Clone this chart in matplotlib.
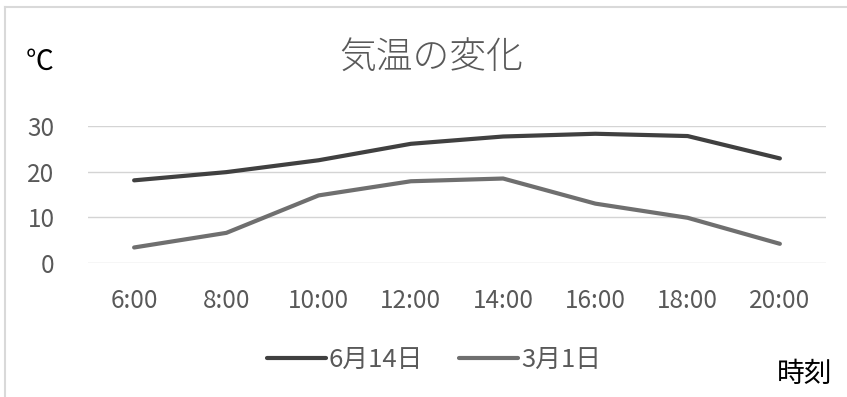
import matplotlib
matplotlib.use("Agg")
import matplotlib.pyplot as plt
from matplotlib.lines import Line2D

plt.rcParams['font.family'] = ['Noto Sans CJK JP', 'DejaVu Sans']

times = ["6:00", "8:00", "10:00", "12:00", "14:00", "16:00", "18:00", "20:00"]
june14 = [18.1, 19.9, 22.5, 26.1, 27.7, 28.3, 27.8, 22.9]
march1 = [3.4, 6.6, 14.8, 17.9, 18.5, 13.0, 9.9, 4.2]
series_names = ["6月14日", "3月1日"]
yticks = [0, 10, 20, 30]

W, H = 847, 397
fig = plt.figure(figsize=(W / 100, H / 100), dpi=100)
fig.patch.set_facecolor("white")

# chart frame (top and left edges visible)
fig.add_artist(Line2D([5 / W, 1], [1 - 7 / H, 1 - 7 / H], color="#d9d9d9", lw=1.5, transform=fig.transFigure))
fig.add_artist(Line2D([5 / W, 5 / W], [0, 1 - 7 / H], color="#d9d9d9", lw=1.5, transform=fig.transFigure))

left, right, top, bottom = 88, 826, 126, 263
ax = fig.add_axes([left / W, 1 - bottom / H, (right - left) / W, (bottom - top) / H])

x = list(range(len(times)))
ax.plot(x, june14, color="#404040", lw=3.0, solid_capstyle="round", solid_joinstyle="round", label=series_names[0], zorder=3)
ax.plot(x, march1, color="#6f6f6f", lw=3.0, solid_capstyle="round", solid_joinstyle="round", label=series_names[1], zorder=3)

ax.set_xlim(-0.5, len(times) - 0.5)
ax.set_ylim(0, 30)
ax.set_yticks(yticks)
ax.set_xticks(x)
ax.set_xticklabels(times)
ax.grid(axis="y", color="#d4d4d4", lw=1.0)
ax.set_axisbelow(True)
for s in ax.spines.values():
    s.set_visible(False)
ax.tick_params(axis="both", length=0, labelsize=17.5, labelcolor="#595959")
ax.tick_params(axis="y", pad=24)
ax.tick_params(axis="x", pad=18)

fig.text(431 / W, 1 - 58 / H, "気温の変化", ha="center", va="center", fontsize=26.5, color="#595959", fontweight="light")
fig.text(40 / W, 1 - 62 / H, "℃", ha="center", va="center", fontsize=20, color="black")
fig.text(805 / W, 1 - 374 / H, "時刻", ha="center", va="center", fontsize=20, color="black")

leg = fig.legend(loc="center", bbox_to_anchor=(434 / W, 1 - 360 / H), ncol=2, frameon=False,
                 fontsize=18.5, labelcolor="#595959", handlelength=2.3, handletextpad=0.1, columnspacing=1.4)

fig.savefig("out.png", dpi=100, facecolor="white")
